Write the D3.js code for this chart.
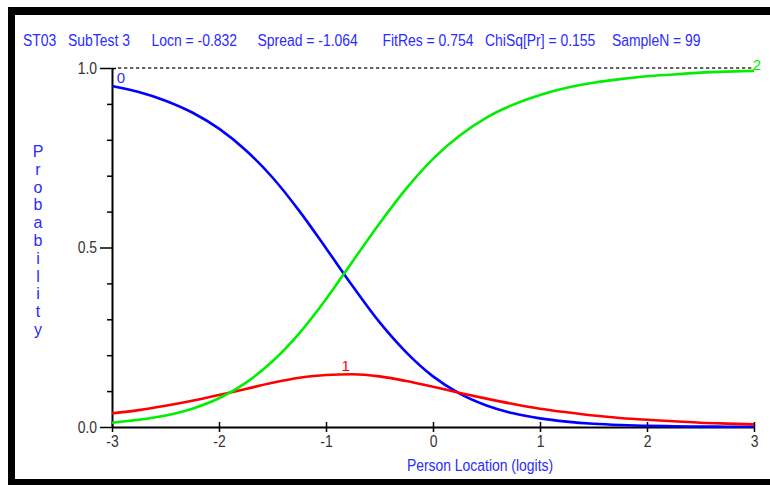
<!DOCTYPE html>
<html><head><meta charset="utf-8">
<script src="https://cdn.jsdelivr.net/npm/d3@7"></script>
<style>body{margin:0;background:#fff;} svg{display:block;}</style>
</head><body>
<svg id="c" width="770" height="485"></svg>
<script>
// ---- data ----
const logits = [-3,-2.75,-2.5,-2.25,-2,-1.75,-1.5,-1.25,-1,-0.75,-0.5,-0.25,0,0.25,0.5,0.75,1,1.25,1.5,1.75,2,2.25,2.5,2.75,3];
const cat0 = [0.950,0.933,0.909,0.876,0.831,0.771,0.695,0.602,0.498,0.392,0.292,0.208,0.141,0.093,0.060,0.038,0.024,0.015,0.009,0.0055,0.0034,0.0021,0.0013,0.0008,0.0005];
const cat1 = [0.038,0.047,0.059,0.073,0.089,0.106,0.123,0.137,0.145,0.147,0.141,0.128,0.112,0.095,0.079,0.064,0.051,0.041,0.032,0.025,0.020,0.016,0.012,0.0095,0.0074];
const cat2 = [0.012,0.020,0.032,0.051,0.080,0.123,0.183,0.261,0.356,0.462,0.567,0.664,0.747,0.812,0.862,0.898,0.925,0.945,0.959,0.969,0.977,0.982,0.987,0.990,0.992];
const categoryLabels = ["0","1","2"];
const xTicks = [-3,-2,-1,0,1,2,3];
const yMajorTicks = [0,0.5,1];
const yMinorTicks = [0.1,0.2,0.3,0.4,0.6,0.7,0.8,0.9];
const headerItems = ["ST03","SubTest 3","Locn = -0.832","Spread = -1.064","FitRes = 0.754","ChiSq[Pr] = 0.155","SampleN = 99"];
const xTitle = "Person Location (logits)";
const yTitle = "Probability";

// ---- drawing ----
const svg = d3.select("#c");
const FONT = "'Liberation Sans', Arial, sans-serif";
const BLUE_TXT = "#2b2bff";
const NARROW = 0.87;
function narrow(sel, f) {
  sel.each(function(){
    const w = this.getComputedTextLength();
    d3.select(this).attr("textLength", w * (f||NARROW)).attr("lengthAdjust","spacingAndGlyphs");
  });
}

// frame
svg.append("rect").attr("x",8).attr("y",7).attr("width",762).attr("height",8).attr("fill","#000");
svg.append("rect").attr("x",8).attr("y",7).attr("width",7).attr("height",478).attr("fill","#000");
svg.append("rect").attr("x",8).attr("y",479).attr("width",762).attr("height",6).attr("fill","#000");

const x = d3.scaleLinear().domain([-3,3]).range([112,754]);
const y = d3.scaleLinear().domain([0,1]).range([427,68]);

// header
const headerX = [23,68,151.5,257.5,382.5,485,612];
const header = svg.append("g").attr("font-family",FONT).attr("font-size",16).attr("fill",BLUE_TXT);
header.selectAll("text").data(headerItems).join("text")
  .attr("x",(d,i)=>headerX[i]).attr("y",46).text(d=>d).call(narrow);

// dashed reference line at 1.0
svg.append("line").attr("x1",118).attr("x2",x(3)).attr("y1",y(1)).attr("y2",y(1))
  .attr("stroke","#333").attr("stroke-width",1.6).attr("stroke-dasharray","3.3,2.7");

// y axis
const yAxisG = svg.append("g").attr("transform",`translate(${x(-3)},0)`);
yAxisG.call(d3.axisLeft(y).tickValues(yMajorTicks).tickSize(12).tickSizeOuter(0).tickPadding(3)
  .tickFormat(d3.format(".1f")));
yAxisG.select(".domain").attr("stroke-width",2);
yAxisG.selectAll(".tick line").attr("stroke-width",1.5);
yAxisG.selectAll("text").attr("font-family",FONT).attr("font-size",16).attr("fill","#333").call(narrow);
const yMinorG = svg.append("g").attr("transform",`translate(${x(-3)},0)`);
yMinorG.call(d3.axisLeft(y).tickValues(yMinorTicks).tickSize(5).tickFormat(""));
yMinorG.select(".domain").remove();
yMinorG.selectAll(".tick line").attr("stroke-width",1.5);
const yTopG = svg.append("g").attr("transform",`translate(${x(-3)},0)`);
yTopG.call(d3.axisRight(y).tickValues([1]).tickSize(4).tickFormat(""));
yTopG.select(".domain").remove();
yTopG.selectAll(".tick line").attr("stroke-width",1.5);

// x axis
const xAxisG = svg.append("g").attr("transform",`translate(0,${y(0)})`);
xAxisG.call(d3.axisBottom(x).tickValues(xTicks).tickSize(5).tickSizeOuter(0).tickPadding(4)
  .tickFormat(d=>String(d)));
xAxisG.select(".domain").attr("stroke-width",2);
xAxisG.selectAll(".tick line").attr("stroke-width",1.5);
xAxisG.selectAll("text").attr("font-family",FONT).attr("font-size",16).attr("fill","#333").call(narrow);
const xTopG = svg.append("g").attr("transform",`translate(0,${y(0)})`);
xTopG.call(d3.axisTop(x).tickValues(xTicks).tickSize(5).tickFormat(""));
xTopG.select(".domain").remove();
xTopG.selectAll(".tick line").attr("stroke-width",1.5);

// axis titles
svg.append("text").attr("x",480).attr("y",471).attr("text-anchor","middle")
  .attr("font-family",FONT).attr("font-size",16).attr("fill",BLUE_TXT).text(xTitle).call(narrow);
svg.append("g").attr("font-family",FONT).attr("font-size",16).attr("fill",BLUE_TXT)
  .selectAll("text").data(yTitle.split("")).join("text")
  .attr("x",38).attr("y",(d,i)=>157 + i*17.8).attr("text-anchor","middle").text(d=>d);

// curves
const seriesList = [
  {values:cat0, color:"#0000ff"},
  {values:cat1, color:"#ff0000"},
  {values:cat2, color:"#00ee00"}
];
const line = d3.line().x((d)=>x(d[0])).y(d=>y(d[1])).curve(d3.curveMonotoneX);
svg.append("g").selectAll("path").data(seriesList).join("path")
  .attr("d",s=>line(logits.map((l,i)=>[l,s.values[i]])))
  .attr("fill","none").attr("stroke",s=>s.color).attr("stroke-width",2.6);

// curve labels
const g = svg.append("g").attr("font-family",FONT).attr("font-size",15).attr("text-anchor","middle");
g.append("text").attr("x",x(logits[0])+9).attr("y",y(cat0[0])-3).attr("fill","#2b2bff").text(categoryLabels[0]);
const peak = d3.maxIndex(cat1);
g.append("text").attr("x",x(logits[peak])-7).attr("y",y(cat1[peak])-3).attr("fill","#ff0000").text(categoryLabels[1]);
g.append("text").attr("x",x(logits[logits.length-1])+3).attr("y",y(cat2[cat2.length-1])-1).attr("fill","#00ee00").text(categoryLabels[2]);
</script>
</body></html>
